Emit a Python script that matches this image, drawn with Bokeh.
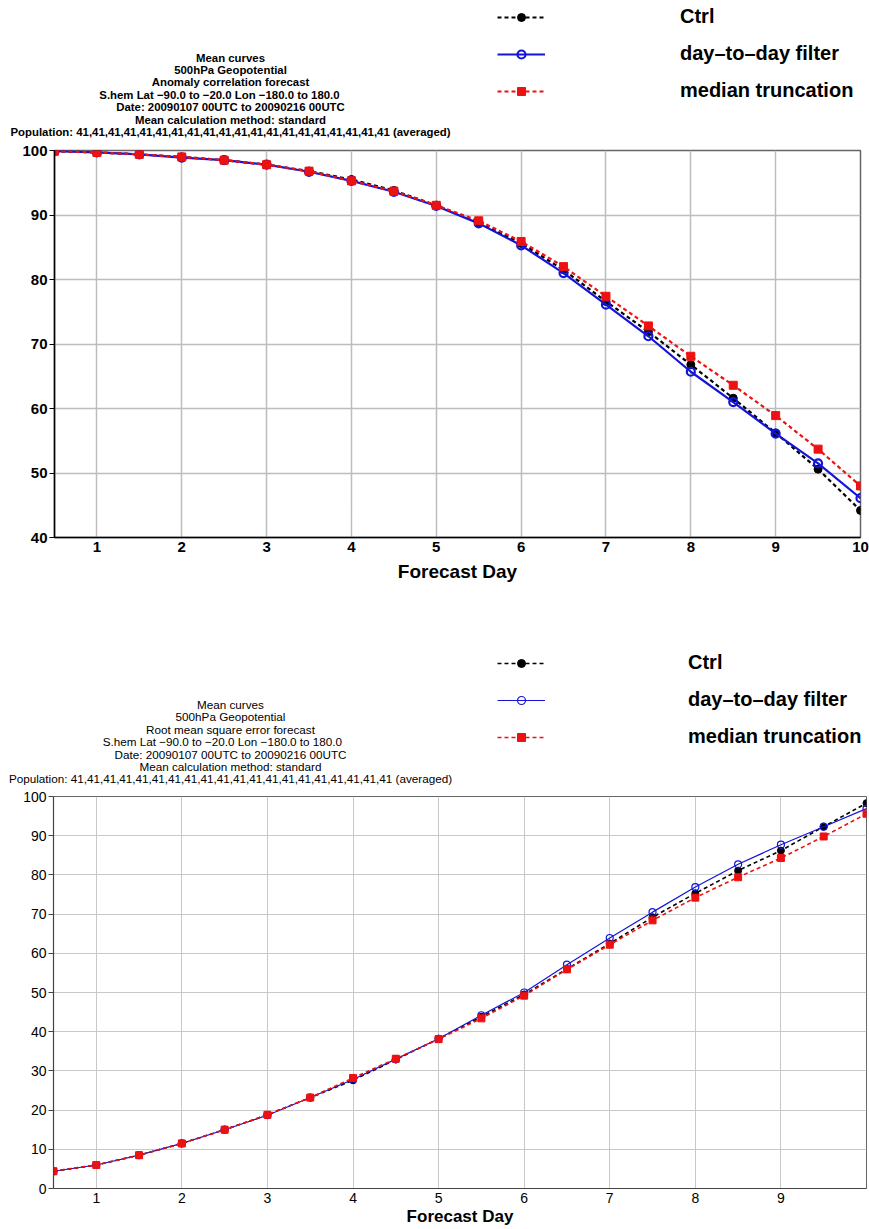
from bokeh.plotting import figure
from bokeh.models import Legend, LegendItem, FixedTicker, Range1d
from bokeh.core.properties import value
from bokeh.layouts import column
from bokeh.embed import file_html
from bokeh.resources import INLINE

FONT = "Liberation Sans"
W = 869

days = [0.5, 1.0, 1.5, 2.0, 2.5, 3.0, 3.5, 4.0, 4.5, 5.0,
        5.5, 6.0, 6.5, 7.0, 7.5, 8.0, 8.5, 9.0, 9.5, 10.0]

# Anomaly correlation (top panel)
ctrl_acc = [99.9, 99.7, 99.4, 99.0, 98.5, 97.8, 96.8, 95.5, 93.8, 91.5,
            88.8, 85.6, 81.5, 76.6, 71.9, 66.8, 61.6, 56.2, 50.6, 44.2]
filt_acc = [99.9, 99.7, 99.4, 98.9, 98.5, 97.8, 96.7, 95.3, 93.6, 91.4,
            88.7, 85.3, 81.0, 76.1, 71.2, 65.7, 61.0, 56.1, 51.5, 46.1]
med_acc = [99.9, 99.7, 99.4, 99.0, 98.5, 97.8, 96.8, 95.3, 93.7, 91.5,
           89.1, 85.9, 82.0, 77.4, 72.8, 68.1, 63.6, 58.9, 53.7, 48.0]

# Root mean square error (bottom panel)
ctrl_rmse = [4.4, 6.0, 8.5, 11.5, 15.0, 18.8, 23.2, 27.6, 32.9, 38.2,
             43.8, 49.5, 56.0, 62.5, 69.2, 75.3, 81.1, 86.2, 92.3, 98.3]
filt_rmse = [4.4, 6.0, 8.5, 11.5, 15.0, 18.7, 23.2, 27.8, 33.0, 38.2,
             44.2, 50.0, 57.1, 63.9, 70.5, 76.9, 82.7, 87.7, 92.3, 96.9]
med_rmse = [4.4, 6.0, 8.5, 11.5, 15.0, 18.8, 23.2, 28.2, 33.1, 38.1,
            43.4, 49.2, 55.9, 62.2, 68.4, 74.2, 79.4, 84.3, 89.8, 95.6]

series_names = ["Ctrl", "day\u2013to\u2013day filter", "median truncation"]

top_header = [
    "Mean curves",
    "500hPa Geopotential",
    "Anomaly correlation forecast",
    "S.hem  Lat  \u221290.0  to  \u221220.0 Lon  \u2212180.0  to  180.0",
    "Date: 20090107 00UTC to 20090216 00UTC",
    "Mean calculation method: standard",
    "Population: 41,41,41,41,41,41,41,41,41,41,41,41,41,41,41,41,41,41,41,41 (averaged)",
]
bottom_header = [
    "Mean curves",
    "500hPa Geopotential",
    "Root mean square error forecast",
    "S.hem  Lat  \u221290.0 to  \u221220.0 Lon  \u2212180.0 to  180.0",
    "Date: 20090107 00UTC to 20090216 00UTC",
    "Mean calculation method: standard",
    "Population: 41,41,41,41,41,41,41,41,41,41,41,41,41,41,41,41,41,41,41,41 (averaged)",
]

x_ticks_top = [1, 2, 3, 4, 5, 6, 7, 8, 9, 10]
x_ticks_bottom = [1, 2, 3, 4, 5, 6, 7, 8, 9]
y_ticks_top = [40, 50, 60, 70, 80, 90, 100]
y_ticks_bottom = [0, 10, 20, 30, 40, 50, 60, 70, 80, 90, 100]

BLUE = "#1414d8"
RED = "#ee1111"


def add_series(p, xs, ys, lw_solid, lw_dash, msize, **kw):
    ctrl, filt, med = ys
    l1 = p.line(xs, ctrl, line_color="black", line_width=lw_dash,
                line_dash="4 3", **kw)
    m1 = p.scatter(xs, ctrl, marker="circle", size=msize, fill_color="black",
                   line_color="black", **kw)
    l2 = p.line(xs, filt, line_color=BLUE, line_width=lw_solid, **kw)
    m2 = p.scatter(xs, filt, marker="circle", size=msize, fill_alpha=0.0,
                   line_color=BLUE, line_width=lw_solid, **kw)
    l3 = p.line(xs, med, line_color=RED, line_width=lw_dash, line_dash="4 3",
                **kw)
    m3 = p.scatter(xs, med, marker="square", size=msize, fill_color=RED,
                   line_color=RED, **kw)
    return [(l1, m1), (l2, m2), (l3, m3)]


def make_header(lines, ys, height, bold, head_top, head_step, head_size,
                leg_x, leg_y, label_standoff, lw_solid, lw_dash, msize):
    h = figure(width=W, height=height, output_backend="svg",
               toolbar_location=None, x_range=Range1d(0, W),
               y_range=Range1d(0, height), min_border=0,
               x_axis_type=None, y_axis_type=None)
    h.grid.visible = False
    h.outline_line_color = None
    # legend swatches come from the real series, drawn on ranges outside view
    h.extra_x_ranges = {"off": Range1d(100, 110)}
    h.extra_y_ranges = {"off": Range1d(1000, 1100)}
    n = len(lines)
    h.text(x=[230] * n, y=[height - head_top - i * head_step for i in range(n)],
           text=lines, text_align="center", text_baseline="middle",
           text_font=value(FONT), text_font_size=head_size,
           text_font_style="bold" if bold else "normal", text_color="black")
    pairs = add_series(h, days, ys, lw_solid, lw_dash, msize,
                       x_range_name="off", y_range_name="off")
    legend = Legend(items=[LegendItem(label=series_names[i], renderers=list(pairs[i]))
                           for i in range(3)],
                    location=(leg_x, leg_y))
    legend.glyph_width = 48
    legend.glyph_height = 20
    legend.label_height = 20
    legend.spacing = 14
    legend.padding = 0
    legend.margin = 0
    legend.label_standoff = label_standoff
    legend.label_text_font = FONT
    legend.label_text_font_style = "bold"
    legend.label_text_font_size = "20px"
    legend.label_text_color = "black"
    legend.border_line_color = None
    legend.background_fill_alpha = 0.0
    h.add_layout(legend, "center")
    return h


def make_panel(ys, ylim, xticks, yticks, bold, frame_h, border_bottom,
               border_left, border_right, lw_solid, lw_dash, msize,
               grid_color, grid_w, label_standoff):
    p = figure(width=W, height=10 + frame_h + border_bottom, output_backend="svg",
               toolbar_location=None, x_range=Range1d(0.5, 10.0),
               y_range=Range1d(*ylim), min_border_left=border_left,
               min_border_right=border_right, min_border_top=10,
               min_border_bottom=border_bottom)
    p.outline_line_color = "#666666"
    p.outline_line_width = 1.5 if bold else 1

    style = "bold" if bold else "normal"
    for ax in (p.xaxis[0], p.yaxis[0]):
        ax.major_label_text_font = FONT
        ax.major_label_text_font_style = style
        ax.major_label_text_color = "black"
        ax.minor_tick_line_color = None
        ax.axis_line_color = "black" if bold else "#444444"
        ax.axis_line_width = 1.5 if bold else 1.2
        ax.major_tick_line_color = "black" if bold else "#444444"
        ax.major_label_text_font_size = "15px" if bold else "14px"
    p.xaxis.ticker = FixedTicker(ticks=xticks)
    p.yaxis.ticker = FixedTicker(ticks=yticks)
    p.xaxis.major_tick_out = 0
    p.xaxis.major_tick_in = 0
    p.yaxis.major_tick_out = 5
    p.yaxis.major_tick_in = 0
    p.yaxis.major_label_standoff = 2
    p.xaxis.major_label_standoff = 4
    p.xaxis.axis_label = "Forecast Day"
    p.xaxis.axis_label_text_font = FONT
    p.xaxis.axis_label_text_font_style = "bold"
    p.xaxis.axis_label_text_font_size = "19px" if bold else "17px"
    p.xaxis.axis_label_standoff = label_standoff
    p.xaxis.axis_label_text_color = "black"

    p.grid.grid_line_color = grid_color
    p.grid.grid_line_width = grid_w
    p.xgrid.ticker = FixedTicker(ticks=xticks)
    p.ygrid.ticker = FixedTicker(ticks=yticks)

    add_series(p, days, ys, lw_solid, lw_dash, msize)
    return p


acc = (ctrl_acc, filt_acc, med_acc)
rmse = (ctrl_rmse, filt_rmse, med_rmse)

top_head = make_header(top_header, acc, 140, True, 57, 12.4, "11.4px",
                       497, 38, 135, 2.2, 2.2, 8)
top = make_panel(acc, (40, 100), x_ticks_top, y_ticks_top, True, 387, 53,
                 54, 9, 2.2, 2.2, 8, "#bdbdbd", 1.5, 6)
bottom_head = make_header(bottom_header, rmse, 196, False, 114, 12.4, "11.7px",
                          497, 38, 143, 1.2, 1.6, 7)
bottom = make_panel(rmse, (0, 100), x_ticks_bottom, y_ticks_bottom, False,
                    392, 41, 53, 3, 1.2, 1.6, 7, "#c8c8c8", 1, 1)

# each figure in its own box so that the column does not align their frames
layout = column(column(top_head), column(top), column(bottom_head),
                column(bottom), spacing=0)
open("out.html", "w").write(file_html(layout, INLINE))
